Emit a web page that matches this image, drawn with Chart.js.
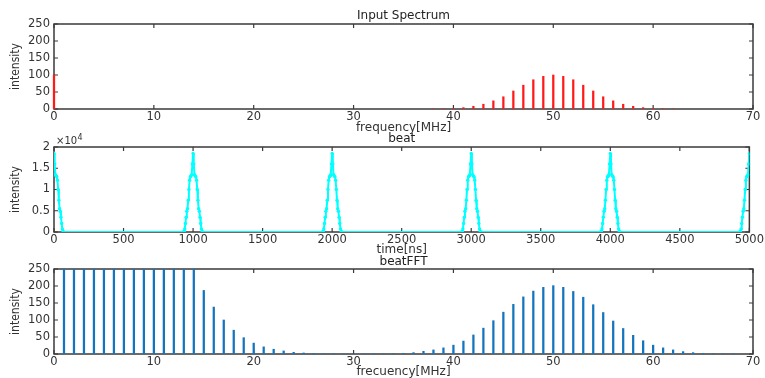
<!DOCTYPE html>
<html><head><meta charset="utf-8">
<script src="https://cdn.jsdelivr.net/npm/chart.js@4/dist/chart.umd.min.js"></script>
<style>
html,body{margin:0;padding:0;background:#fff;overflow:hidden;width:765px;height:378px;position:relative;}
canvas{position:absolute;left:0;}
</style></head><body>
<canvas id="c1" width="765" height="135" style="top:0px"></canvas>
<canvas id="c2" width="765" height="132" style="top:125px"></canvas>
<canvas id="c3" width="765" height="129" style="top:250px"></canvas>
<script>
// ---------- DATA ----------
// Panel 1: Input Spectrum
const inputFreqs = [0, 38,39,40,41,42,43,44,45,46,47,48,49,50,51,52,53,54,55,56,57,58,59,60,61,62];
const inputIntensity = [100, 0.5,1,2,4,8,14,24,36,53,70,86,96,100,96,86,70,53,36,24,14,8,4,2,1,0.5];

// Panel 2: beat (identical pulses repeating every 1000 ns)
const pulseCenters = [0,1000,2000,3000,4000,5000];
const pulseOffsets = [-70,-65,-60,-55,-50,-45,-40,-35,-30,-25,-20,-15,-10,-5,0,5,10,15,20,25,30,35,40,45,50,55,60,65,70];
const pulseShape   = [0,150,700,2000,3500,4900,5500,7500,10000,12200,13000,13200,13500,16000,18500,16000,13500,13200,13000,12200,10000,7500,5500,4900,3500,2000,700,150,0];

// Panel 3: beatFFT
const fftFreqs = [1,2,3,4,5,6,7,8,9,10,11,12,13,14,15,16,17,18,19,20,21,22,23,24,25,26,27,28,29,30,31,32,33,34,35,36,37,38,39,40,41,42,43,44,45,46,47,48,49,50,51,52,53,54,55,56,57,58,59,60,61,62,63,64,65,66,67,68];
const fftIntensity = [1280,1260,1230,1180,1120,1040,950,850,740,630,520,420,330,252,187,138,100,70,48,32,21,14,9,5,3,2,1,1,0.5,0.5,0.5,0.5,0.7,1,2,4,8,12,18,26,38,56,76,98,123,146,168,185,196,201,196,184,167,145,122,97,75,55,39,26,18,12,7,4,2,1,0.5,0.5];

// Tick labels
const freqTicks = [0,10,20,30,40,50,60,70];
const timeTicks = [0,500,1000,1500,2000,2500,3000,3500,4000,4500,5000];
const intensityTicks = [0,50,100,150,200,250];
const beatTicks = [0,0.5,1,1.5,2];   // x10^4

// ---------- BUILD ----------
const pts = (xs, ys) => xs.map((x,i)=>({x, y: ys[i]}));
const beatPoints = [];
pulseCenters.forEach(c => pulseOffsets.forEach((o,i) => {
  const x = c + o;
  if (x >= 0 && x <= 5000) beatPoints.push({x, y: pulseShape[i]});
}));

const textColor = '#333';
const tickFont = {family:'DejaVu Sans', size:11.5};
const labelFont = {family:'DejaVu Sans', size:12, lineHeight:1.2};

const framePlugin = {
  id:'frame',
  beforeDatasetsDraw(chart){
    const {ctx, chartArea:a, scales:{x,y}} = chart;
    ctx.save();
    ctx.strokeStyle = '#3a3a3a'; ctx.lineWidth = 1.5;
    ctx.strokeRect(a.left, a.top, a.right-a.left, a.bottom-a.top);
    const L = 4;
    ctx.lineWidth = 1.2;
    ctx.beginPath();
    x.ticks.forEach(t=>{const p=x.getPixelForValue(t.value); ctx.moveTo(p,a.top); ctx.lineTo(p,a.top+L); ctx.moveTo(p,a.bottom); ctx.lineTo(p,a.bottom-L);});
    y.ticks.forEach(t=>{const p=y.getPixelForValue(t.value); ctx.moveTo(a.left,p); ctx.lineTo(a.left+L,p); ctx.moveTo(a.right,p); ctx.lineTo(a.right-L,p);});
    ctx.stroke();
    ctx.restore();
  }
};

const expPlugin = {
  id:'exp',
  afterDraw(chart){
    const {ctx, chartArea:a} = chart;
    ctx.save();
    ctx.fillStyle = textColor;
    ctx.textBaseline = 'alphabetic';
    ctx.font = '10px "DejaVu Sans"';
    ctx.fillText('\u00d710', a.left+2, a.top-3);
    const w = ctx.measureText('\u00d710').width;
    ctx.font = '8px "DejaVu Sans"';
    ctx.fillText('4', a.left+2+w+0.5, a.top-7);
    ctx.restore();
  }
};

function makeOptions(o){
  return {
    responsive:false, animation:false,
    layout:{padding:{left:0,right:12,top:0,bottom:0}},
    plugins:{
      legend:{display:false}, tooltip:{enabled:false},
      title:{display:true, text:o.title, fullSize:false, color:'#222',
        font:{family:'DejaVu Sans', size:12, weight:'normal', lineHeight:1.2},
        padding:{top:o.tp, bottom:o.tb}}
    },
    scales:{
      x:{type:'linear', min:o.xTicks[0], max:o.xTicks[o.xTicks.length-1], offset:false,
        grid:{display:false, drawTicks:false, offset:false}, border:{display:false},
        afterBuildTicks(s){ s.ticks = o.xTicks.map(v=>({value:v})); },
        ticks:{autoSkip:false, maxRotation:0, padding:1, color:textColor, font:tickFont, callback:v=>String(v)},
        title:{display:true, text:o.xLabel, color:textColor, font:labelFont, padding:0},
        afterFit(s){ s.height = o.xH; }},
      y:{type:'linear', min:0, max:o.yMax,
        grid:{display:false, drawTicks:false}, border:{display:false},
        afterBuildTicks(s){ s.ticks = o.yTickVals.map(v=>({value:v})); },
        ticks:{autoSkip:false, padding:4, color:textColor, font:tickFont, callback:o.yCb},
        title:{display:true, text:'intensity', color:textColor,
          font:{family:'"Liberation Sans Narrow", "DejaVu Sans Condensed", "Liberation Sans", sans-serif', size:12, lineHeight:1.2}, padding:{top:9,bottom:0}},
        afterFit(s){ s.width = 54; }}
    }
  };
}

new Chart(document.getElementById('c1'), {
  type:'bar',
  data:{datasets:[{data:pts(inputFreqs,inputIntensity), backgroundColor:'#ff1a1a', barThickness:1.6, clip:{left:2,right:2,top:0,bottom:0}}]},
  options: makeOptions({title:'Input Spectrum', tp:9, tb:0.6, xTicks:freqTicks, xLabel:'frequency[MHz]', xH:26,
    yMax:250, yTickVals:intensityTicks, yCb:v=>String(v)}),
  plugins:[framePlugin]
});

new Chart(document.getElementById('c2'), {
  type:'line',
  data:{datasets:[{data:beatPoints, borderColor:'#00ffff', borderWidth:2, backgroundColor:'#00ffff',
    pointRadius:1.7, pointBorderWidth:0, pointBackgroundColor:'#00ffff', tension:0}]},
  options: makeOptions({title:'beat', tp:7, tb:0.6, xTicks:timeTicks, xLabel:'time[ns]', xH:25,
    yMax:20000, yTickVals:beatTicks.map(v=>v*10000), yCb:v=>String(v/10000)}),
  plugins:[framePlugin, expPlugin]
});

new Chart(document.getElementById('c3'), {
  type:'bar',
  data:{datasets:[{data:pts(fftFreqs,fftIntensity), backgroundColor:'#1474bd', barThickness:1.6, clip:{left:2,right:2,top:0,bottom:0}}]},
  options: makeOptions({title:'beatFFT', tp:4.6, tb:0, xTicks:freqTicks, xLabel:'frecuency[MHz]', xH:25,
    yMax:250, yTickVals:intensityTicks, yCb:v=>String(v)}),
  plugins:[framePlugin]
});
</script>
</body></html>
